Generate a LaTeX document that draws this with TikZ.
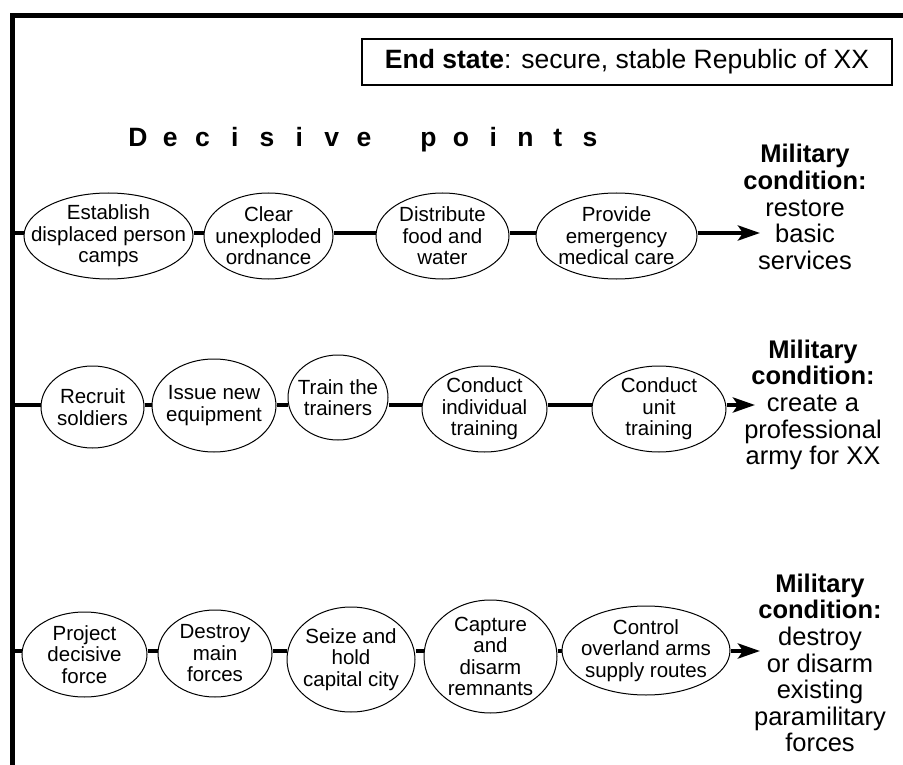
\documentclass[tikz,border=0pt]{standalone}
\usepackage{fontspec}
\setmainfont{Liberation Sans}
\usetikzlibrary{shapes.geometric,arrows.meta,backgrounds}
\newcommand\dpletter[1]{\makebox[32.3pt]{#1}}
\begin{document}
\begin{tikzpicture}[x=1pt,y=-1pt,
  ell/.style={draw, ellipse, line width=1pt, fill=white, inner sep=0pt},
  eltext/.style={align=center, font=\fontsize{20.5}{21.5}\selectfont, inner sep=0pt},
  conn/.style={line width=4pt},
  arr/.style={line width=4pt, -{Stealth[length=22pt,width=15pt,inset=5pt]}},
  cond/.style={align=center, font=\fontsize{25.5}{26.6}\selectfont, inner sep=0pt},
  framestyle/.style={line width=4.5pt, line join=miter}]
\useasboundingbox (0,0) rectangle (903,765);
\draw[framestyle] (12.5,765) -- (12.5,15.5) -- (903,15.5);

\node[draw, line width=1.2pt, minimum width=530pt, minimum height=46pt, inner sep=0pt,
  font=\fontsize{26.5}{30}\selectfont] (es) at (627,62)
  {\textbf{End state}: secure, stable Republic of XX};

\node[font=\bfseries\fontsize{26.5}{30}\selectfont, inner sep=0pt, anchor=base] (dp) at (364,147)
  {\dpletter{D}\dpletter{e}\dpletter{c}\dpletter{i}\dpletter{s}\dpletter{i}\dpletter{v}\dpletter{e}\dpletter{ }\dpletter{p}\dpletter{o}\dpletter{i}\dpletter{n}\dpletter{t}\dpletter{s}};

% row 1
\node[ell, minimum width=169pt, minimum height=86pt] (e1) at (108.5,236) {};
\node[eltext] (e1t) at (e1) {Establish\\displaced person\\camps};
\node[ell, minimum width=129pt, minimum height=86pt] (e2) at (268.5,236) {};
\node[eltext] (e2t) at (e2) {Clear\\unexploded\\ordnance};
\node[ell, minimum width=133pt, minimum height=86pt] (e3) at (442.5,236) {};
\node[eltext] (e3t) at (e3) {Distribute\\food and\\water};
\node[ell, minimum width=161pt, minimum height=86pt] (e4) at (616.5,236) {};
\node[eltext] (e4t) at (e4) {Provide\\emergency\\medical care};
\node[cond] (m1) at (805,207) {\textbf{Military}\\\textbf{condition:}\\restore\\basic\\services};

% row 2
\node[ell, minimum width=103pt, minimum height=82pt] (r1) at (92.5,407) {};
\node[eltext] (r1t) at (r1) {Recruit\\soldiers};
\node[ell, minimum width=124pt, minimum height=93pt] (r2) at (214,405.5) {};
\node[eltext] (r2t) at (r2) {Issue new\\equipment};
\node[ell, minimum width=100pt, minimum height=85pt] (r3) at (338,397.5) {};
\node[eltext] (r3t) at (r3) {Train the\\trainers};
\node[ell, minimum width=125pt, minimum height=86pt] (r4) at (484.5,409) {};
\node[eltext] (r4t) at (r4) {Conduct\\individual\\training};
\node[ell, minimum width=134pt, minimum height=86pt] (r5) at (659,409) {};
\node[eltext] (r5t) at (r5) {Conduct\\unit\\training};
\node[cond] (m2) at (813,405) {\textbf{Military}\\\textbf{condition:}\\create a\\professional\\army for XX};

% row 3
\node[ell, minimum width=125pt, minimum height=85pt] (t1) at (84.5,654.5) {};
\node[eltext] (t1t) at (t1) {Project\\decisive\\force};
\node[ell, minimum width=114pt, minimum height=87pt] (t2) at (215,653.5) {};
\node[eltext] (t2t) at (t2) {Destroy\\main\\forces};
\node[ell, minimum width=128pt, minimum height=105pt] (t3) at (351,659.5) {};
\node[eltext] (t3t) at (t3) {Seize and\\hold\\capital city};
\node[ell, minimum width=133pt, minimum height=113pt] (t4) at (490.5,656.5) {};
\node[eltext] (t4t) at (t4) {Capture\\and\\disarm\\remnants};
\node[ell, minimum width=168pt, minimum height=89pt] (t5) at (646,650.5) {};
\node[eltext] (t5t) at (t5) {Control\\overland arms\\supply routes};
\node[cond] (m3) at (820,663) {\textbf{Military}\\\textbf{condition:}\\destroy\\or disarm\\existing\\paramilitary\\forces};

\coordinate (s1) at (12.5,233);
\coordinate (s2) at (12.5,405);
\coordinate (s3) at (12.5,651);
\coordinate (a1) at (760,233);
\coordinate (a2) at (755,405);
\coordinate (a3) at (760,651);

\begin{scope}[on background layer]
\draw[conn] (s1) -- (e1.west |- s1);
\draw[conn] (e1.east |- s1) -- (e2.west |- s1);
\draw[conn] (e2.east |- s1) -- (e3.west |- s1);
\draw[conn] (e3.east |- s1) -- (e4.west |- s1);
\draw[conn] (s2) -- (r1.west |- s2);
\draw[conn] (r1.east |- s2) -- (r2.west |- s2);
\draw[conn] (r2.east |- s2) -- (r3.west |- s2);
\draw[conn] (r3.east |- s2) -- (r4.west |- s2);
\draw[conn] (r4.east |- s2) -- (r5.west |- s2);
\draw[conn] (s3) -- (t1.west |- s3);
\draw[conn] (t1.east |- s3) -- (t2.west |- s3);
\draw[conn] (t2.east |- s3) -- (t3.west |- s3);
\draw[conn] (t3.east |- s3) -- (t4.west |- s3);
\draw[conn] (t4.east |- s3) -- (t5.west |- s3);
\end{scope}
\draw[arr] (e4.east |- a1) -- (a1);
\draw[arr] (r5.east |- a2) -- (a2);
\draw[arr] (t5.east |- a3) -- (a3);
\end{tikzpicture}
\end{document}
